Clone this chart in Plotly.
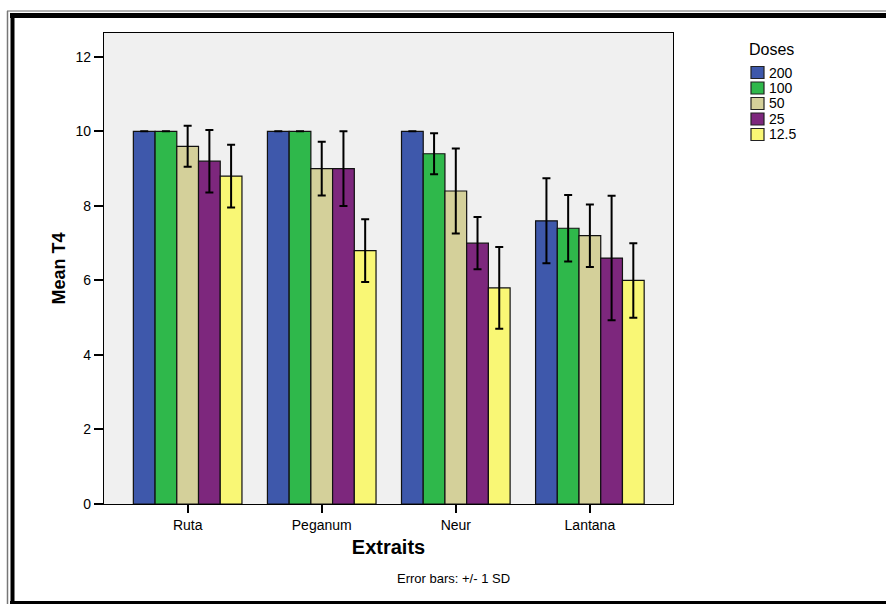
import plotly.graph_objects as go

categories = ["Ruta", "Peganum", "Neur", "Lantana"]
doses = ["200", "100", "50", "25", "12.5"]
colors = ["#3e58ab", "#2fb84b", "#d4d09a", "#7d277d", "#f9f775"]

mean_200 = [10.0, 10.0, 10.0, 7.6]
mean_100 = [10.0, 10.0, 9.4, 7.4]
mean_50 = [9.6, 9.0, 8.4, 7.2]
mean_25 = [9.2, 9.0, 7.0, 6.6]
mean_12_5 = [8.8, 6.8, 5.8, 6.0]

sd_200 = [0.0, 0.0, 0.0, 1.14]
sd_100 = [0.0, 0.0, 0.55, 0.89]
sd_50 = [0.55, 0.72, 1.14, 0.84]
sd_25 = [0.84, 1.0, 0.7, 1.67]
sd_12_5 = [0.84, 0.84, 1.1, 1.0]

means = [mean_200, mean_100, mean_50, mean_25, mean_12_5]
sds = [sd_200, sd_100, sd_50, sd_25, sd_12_5]

yticks = [0, 2, 4, 6, 8, 10, 12]

fig = go.Figure()
for d, c, m, s in zip(doses, colors, means, sds):
    fig.add_trace(go.Bar(
        x=categories, y=m, name=d, showlegend=False,
        marker=dict(color=c, line=dict(color="#111111", width=1.2)),
        error_y=dict(type="data", array=s, visible=True, color="black",
                     thickness=2, width=4),
    ))

L, T, R, B = 104, 33, 213, 100
W, H = 886, 604
pw, ph = W - L - R, H - T - B


def px(x):
    return (x - L) / pw


def py(y):
    return (H - B - y) / ph


shapes = [
    # frame lines
    dict(type="line", xref="paper", yref="paper", x0=px(7), x1=px(900), y0=py(11), y1=py(11),
         line=dict(color="#666666", width=1)),
    dict(type="line", xref="paper", yref="paper", x0=px(10), x1=px(900), y0=py(15.5), y1=py(15.5),
         line=dict(color="black", width=5)),
    dict(type="line", xref="paper", yref="paper", x0=px(7.5), x1=px(7.5), y0=py(11), y1=py(610),
         line=dict(color="#777777", width=1.5)),
    dict(type="line", xref="paper", yref="paper", x0=px(12.5), x1=px(12.5), y0=py(13), y1=py(610),
         line=dict(color="black", width=4)),
    dict(type="line", xref="paper", yref="paper", x0=px(10), x1=px(900), y0=py(602.5), y1=py(602.5),
         line=dict(color="black", width=3)),
]

annotations = [
    dict(text="Error bars: +/- 1 SD", xref="paper", yref="paper",
         x=px(453), y=py(578), xanchor="center", yanchor="middle",
         showarrow=False, font=dict(size=13)),
    dict(text="Doses", xref="paper", yref="paper", x=px(747), y=py(49),
         xanchor="left", yanchor="middle", showarrow=False, font=dict(size=16)),
]

# legend (built from doses / colors)
leg_x0, leg_y0, leg_step = 751, 72.5, 15.5
for i, (d, c) in enumerate(zip(doses, colors)):
    cy = leg_y0 + i * leg_step
    shapes.append(dict(type="rect", xref="paper", yref="paper",
                       x0=px(leg_x0), x1=px(leg_x0 + 13), y0=py(cy - 6), y1=py(cy + 6),
                       fillcolor=c, line=dict(color="#222222", width=1.2)))
    annotations.append(dict(text=d, xref="paper", yref="paper", x=px(767), y=py(cy),
                            xanchor="left", yanchor="middle", showarrow=False,
                            font=dict(size=14)))

fig.update_layout(
    width=W, height=H,
    margin=dict(l=L, r=R, t=T, b=B),
    paper_bgcolor="white",
    plot_bgcolor="#f0f0f0",
    barmode="group",
    bargap=0.19,
    bargroupgap=0,
    font=dict(family="Liberation Sans, Arial, sans-serif", color="black", size=13),
    showlegend=False,
    xaxis=dict(
        range=[-0.624, 3.62],
        showline=True, linecolor="black", linewidth=1.2, mirror=True,
        ticks="outside", ticklen=8, tickcolor="black", tickwidth=1.5,
        tickfont=dict(size=14),
        title=dict(text="<b>Extraits</b>", font=dict(size=20), standoff=8),
        showgrid=False,
    ),
    yaxis=dict(
        range=[0, 12.64],
        tickvals=yticks,
        showline=True, linecolor="black", linewidth=1.2, mirror=True,
        ticks="outside", ticklen=9, tickcolor="black", tickwidth=1.5,
        tickfont=dict(size=14),
        title=dict(text="<b>Mean T4</b>", font=dict(size=18), standoff=5),
        showgrid=False, zeroline=False,
    ),
    shapes=shapes,
    annotations=annotations,
)

fig.write_html("out.html", config={"displayModeBar": False},
               post_script="document.body.style.margin='0';")
